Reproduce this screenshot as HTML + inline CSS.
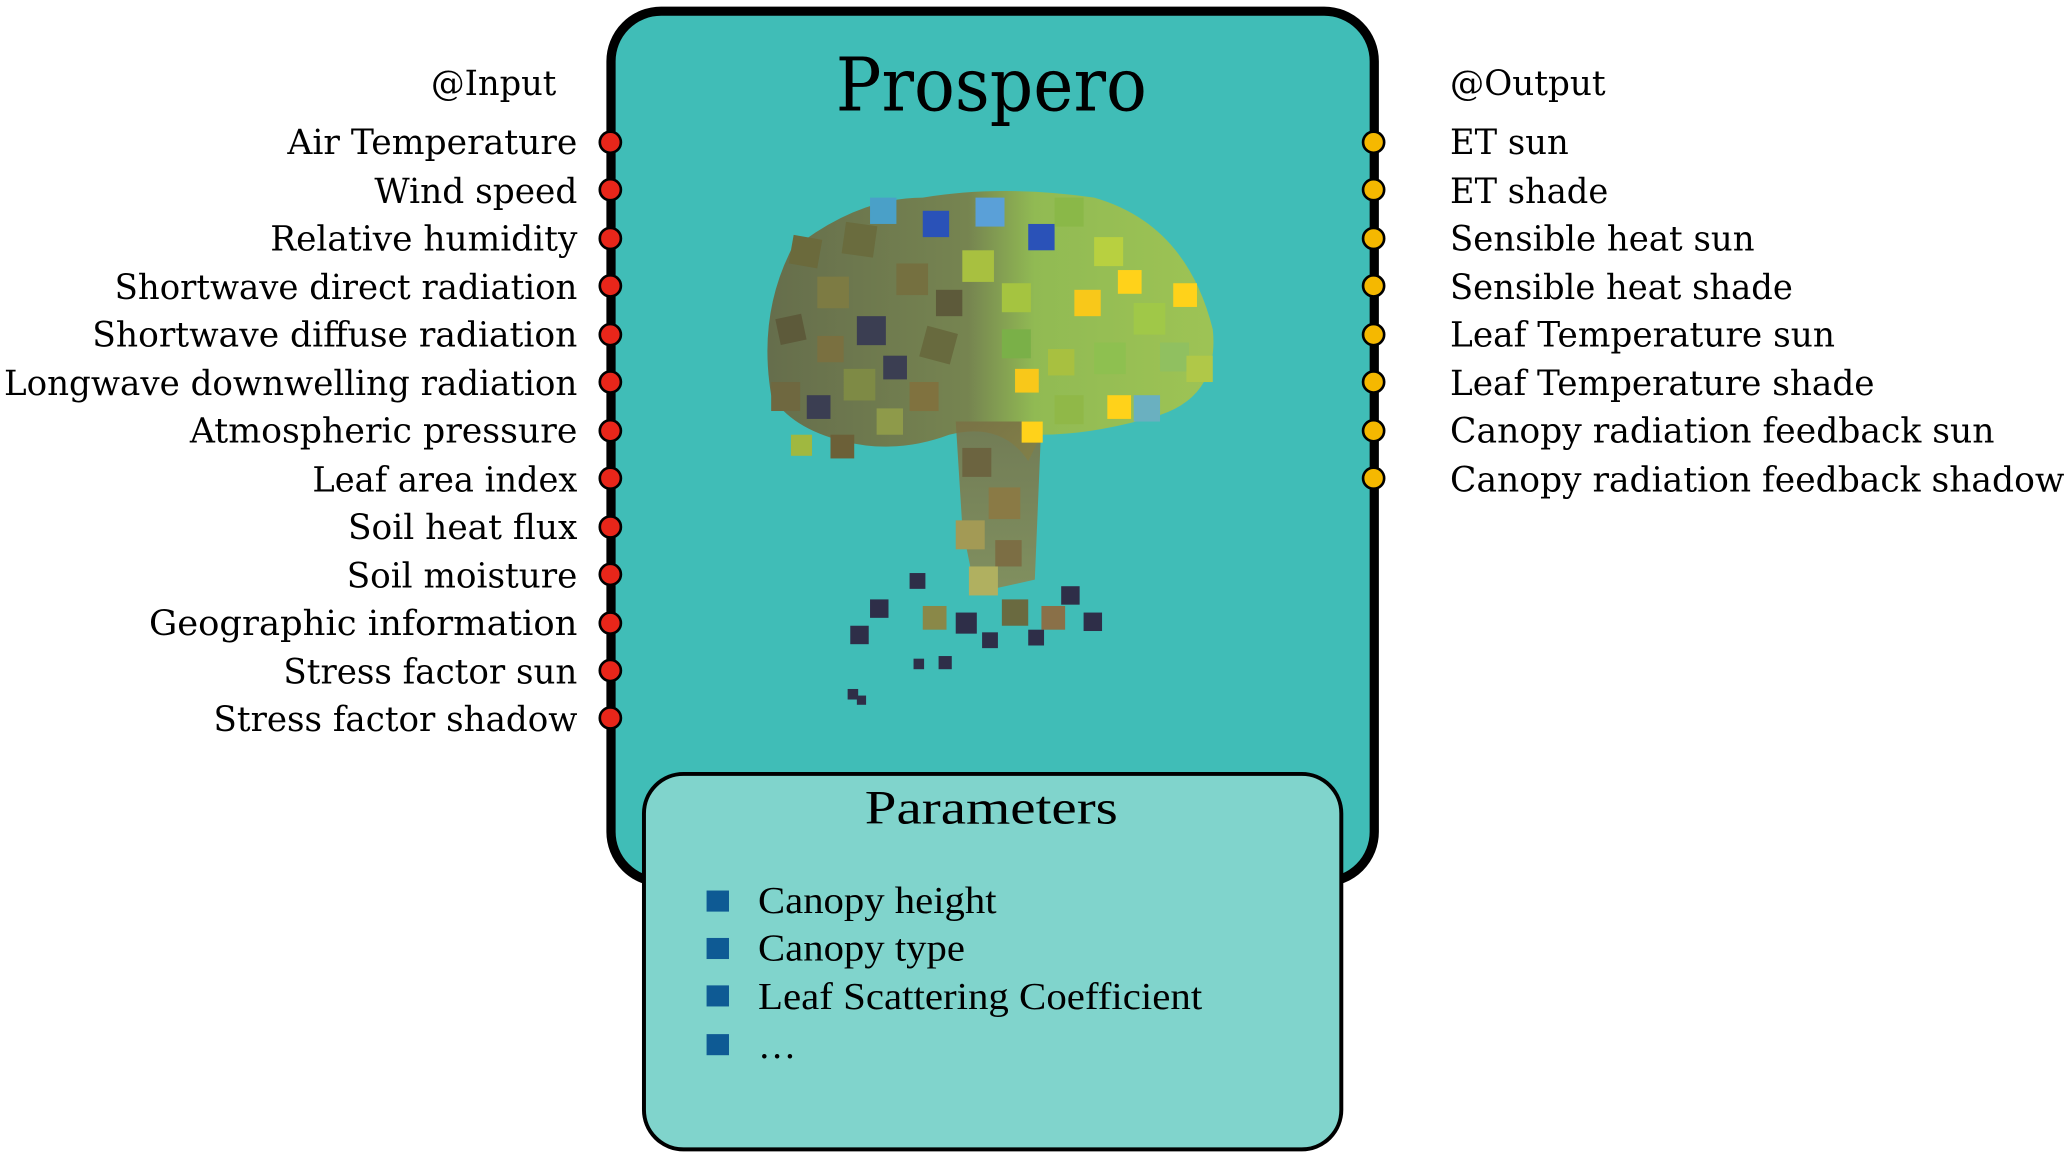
<!DOCTYPE html>
<html><head><meta charset="utf-8"><style>
html,body{margin:0;padding:0;background:#fff;}
svg{display:block}
text{font-family:"DejaVu Serif","Liberation Serif",serif;fill:#000}
.p{font-family:"Liberation Serif",serif}
</style></head><body>
<svg width="2067" height="1154" viewBox="0 0 1568 876" preserveAspectRatio="none" xmlns="http://www.w3.org/2000/svg">
<defs>
<linearGradient id="cg" x1="0" x2="1" y1="0" y2="0">
<stop offset="0" stop-color="#6a6540"/><stop offset="0.45" stop-color="#7c7e45"/><stop offset="0.6" stop-color="#9aba48"/><stop offset="1" stop-color="#a8c44a"/>
</linearGradient>
<linearGradient id="tg" x1="0" x2="0" y1="0" y2="1">
<stop offset="0" stop-color="#7a7044"/><stop offset="1" stop-color="#8c8850"/>
</linearGradient>
</defs>
<rect x="0" y="0" width="1568" height="876" fill="#fff"/>
<rect x="463.5" y="8.5" width="579" height="661" rx="38" fill="#40bdb7" stroke="#000" stroke-width="7"/>
<text x="752" y="84" font-size="56" text-anchor="middle" textLength="236" lengthAdjust="spacingAndGlyphs">Prospero</text>

<!-- tree -->
<g>
<path d="M600 190 Q650 150 700 150 Q760 140 830 150 Q900 170 920 250 Q925 300 880 315 Q830 330 790 330 L780 350 Q760 320 720 330 Q680 345 640 335 Q600 325 585 300 Q575 240 600 190 Z" fill="url(#cg)" opacity="0.9"/>
<path d="M725 320 L790 320 L785 440 L740 450 L730 400 Z" fill="url(#tg)" opacity="0.85"/>
<g stroke="none">
<rect x="600" y="180" width="22" height="22" fill="#6b6a3c" transform="rotate(10 611 191)"/>
<rect x="620" y="210" width="24" height="24" fill="#7d7b43"/>
<rect x="590" y="240" width="20" height="20" fill="#5d5a3a" transform="rotate(-12 600 250)"/>
<rect x="585" y="290" width="22" height="22" fill="#6f6840"/>
<rect x="612" y="300" width="18" height="18" fill="#3b3e52"/>
<rect x="640" y="170" width="24" height="24" fill="#6a6c3e" transform="rotate(8 652 182)"/>
<rect x="660" y="150" width="20" height="20" fill="#4aa0c8"/>
<rect x="700" y="160" width="20" height="20" fill="#2a52b8"/>
<rect x="680" y="200" width="24" height="24" fill="#757040"/>
<rect x="650" y="240" width="22" height="22" fill="#3b3e52"/>
<rect x="640" y="280" width="24" height="24" fill="#7e8a45"/>
<rect x="665" y="310" width="20" height="20" fill="#8e9a4a"/>
<rect x="700" y="250" width="24" height="24" fill="#686a3e" transform="rotate(15 712 262)"/>
<rect x="690" y="290" width="22" height="22" fill="#80723f"/>
<rect x="740" y="150" width="22" height="22" fill="#5aa0d8"/>
<rect x="730" y="190" width="24" height="24" fill="#a8c040"/>
<rect x="760" y="215" width="22" height="22" fill="#a5c440"/>
<rect x="780" y="170" width="20" height="20" fill="#2a52b8"/>
<rect x="800" y="150" width="22" height="22" fill="#8ab848"/>
<rect x="830" y="180" width="22" height="22" fill="#b8d040"/>
<rect x="848" y="205" width="18" height="18" fill="#ffd21a"/>
<rect x="815" y="220" width="20" height="20" fill="#f8c81a"/>
<rect x="860" y="230" width="24" height="24" fill="#a0c848"/>
<rect x="890" y="215" width="18" height="18" fill="#ffd21a"/>
<rect x="880" y="260" width="22" height="22" fill="#90c060"/>
<rect x="900" y="270" width="20" height="20" fill="#b0c848"/>
<rect x="830" y="260" width="24" height="24" fill="#8ec050"/>
<rect x="795" y="265" width="20" height="20" fill="#a8c040"/>
<rect x="770" y="280" width="18" height="18" fill="#f8c81a"/>
<rect x="760" y="250" width="22" height="22" fill="#7ab048"/>
<rect x="840" y="300" width="18" height="18" fill="#ffd21a"/>
<rect x="860" y="300" width="20" height="20" fill="#6ab0c0"/>
<rect x="800" y="300" width="22" height="22" fill="#90b848"/>
<rect x="775" y="320" width="16" height="16" fill="#ffd21a"/>
<rect x="600" y="330" width="16" height="16" fill="#a0b840"/>
<rect x="630" y="330" width="18" height="18" fill="#6c6038"/>
<rect x="620" y="255" width="20" height="20" fill="#7a7040"/>
<rect x="670" y="270" width="18" height="18" fill="#3b3e52"/>
<rect x="710" y="220" width="20" height="20" fill="#5d5a3a"/>
<rect x="730" y="340" width="22" height="22" fill="#6c6440"/>
<rect x="750" y="370" width="24" height="24" fill="#8a7a45"/>
<rect x="725" y="395" width="22" height="22" fill="#a39a55"/>
<rect x="755" y="410" width="20" height="20" fill="#7c6e44"/>
<rect x="735" y="430" width="22" height="22" fill="#b0b060"/>
<rect x="660" y="455" width="14" height="14" fill="#2e2e48"/>
<rect x="645" y="475" width="14" height="14" fill="#2e2e48"/>
<rect x="690" y="435" width="12" height="12" fill="#2e2e48"/>
<rect x="700" y="460" width="18" height="18" fill="#8a8848"/>
<rect x="725" y="465" width="16" height="16" fill="#2e2e48"/>
<rect x="760" y="455" width="20" height="20" fill="#6a6a40"/>
<rect x="790" y="460" width="18" height="18" fill="#8a7048"/>
<rect x="805" y="445" width="14" height="14" fill="#2e2e48"/>
<rect x="822" y="465" width="14" height="14" fill="#2e2e48"/>
<rect x="780" y="478" width="12" height="12" fill="#2e2e48"/>
<rect x="745" y="480" width="12" height="12" fill="#2e2e48"/>
<rect x="693" y="500" width="8" height="8" fill="#2e2e48"/>
<rect x="712" y="498" width="10" height="10" fill="#2e2e48"/>
<rect x="643" y="523" width="8" height="8" fill="#2e2e48"/>
<rect x="650" y="528" width="7" height="7" fill="#2e2e48"/>
</g>
</g>

<!-- params box -->
<rect x="488.5" y="587.5" width="529" height="285" rx="30" fill="#80d4cc" stroke="#000" stroke-width="3"/>
<text class="p" x="752" y="625" font-size="36" text-anchor="middle" textLength="192" lengthAdjust="spacingAndGlyphs">Parameters</text>
<g fill="#0e5a94">
<rect x="536" y="676" width="17" height="16"/><rect x="536" y="712" width="17" height="16"/>
<rect x="536" y="748" width="17" height="16"/><rect x="536" y="785" width="17" height="16"/>
</g>
<g class="p" font-size="29">
<text class="p" x="575" y="693" textLength="181" lengthAdjust="spacingAndGlyphs">Canopy height</text>
<text class="p" x="575" y="729" textLength="157" lengthAdjust="spacingAndGlyphs">Canopy type</text>
<text class="p" x="575" y="766" textLength="337" lengthAdjust="spacingAndGlyphs">Leaf Scattering Coefficient</text>
<text class="p" x="575" y="803">…</text>
</g>

<!-- inputs -->
<g font-size="26">
<text x="327" y="72" textLength="95" lengthAdjust="spacingAndGlyphs">@Input</text>
<text x="218" y="117" textLength="220" lengthAdjust="spacingAndGlyphs">Air Temperature</text>
<text x="284" y="154" textLength="154" lengthAdjust="spacingAndGlyphs">Wind speed</text>
<text x="205" y="190" textLength="233" lengthAdjust="spacingAndGlyphs">Relative humidity</text>
<text x="87" y="227" textLength="351" lengthAdjust="spacingAndGlyphs">Shortwave direct radiation</text>
<text x="70" y="263" textLength="368" lengthAdjust="spacingAndGlyphs">Shortwave diffuse radiation</text>
<text x="3" y="300" textLength="435" lengthAdjust="spacingAndGlyphs">Longwave downwelling radiation</text>
<text x="144" y="336" textLength="294" lengthAdjust="spacingAndGlyphs">Atmospheric pressure</text>
<text x="237" y="373" textLength="201" lengthAdjust="spacingAndGlyphs">Leaf area index</text>
<text x="264" y="409" textLength="174" lengthAdjust="spacingAndGlyphs">Soil heat flux</text>
<text x="263" y="446" textLength="175" lengthAdjust="spacingAndGlyphs">Soil moisture</text>
<text x="113" y="482" textLength="325" lengthAdjust="spacingAndGlyphs">Geographic  information</text>
<text x="215" y="519" textLength="223" lengthAdjust="spacingAndGlyphs">Stress factor sun</text>
<text x="162" y="555" textLength="276" lengthAdjust="spacingAndGlyphs">Stress factor shadow</text>
</g>
<g fill="#e8261a" stroke="#000" stroke-width="2">
<circle cx="463" cy="108" r="8"/><circle cx="463" cy="144" r="8"/><circle cx="463" cy="181" r="8"/>
<circle cx="463" cy="217" r="8"/><circle cx="463" cy="254" r="8"/><circle cx="463" cy="290" r="8"/>
<circle cx="463" cy="327" r="8"/><circle cx="463" cy="363" r="8"/><circle cx="463" cy="400" r="8"/>
<circle cx="463" cy="436" r="8"/><circle cx="463" cy="473" r="8"/><circle cx="463" cy="509" r="8"/>
<circle cx="463" cy="545" r="8"/>
</g>

<!-- outputs -->
<g font-size="26">
<text x="1100" y="72" textLength="118" lengthAdjust="spacingAndGlyphs">@Output</text>
<text x="1100" y="117" textLength="90" lengthAdjust="spacingAndGlyphs">ET sun</text>
<text x="1100" y="154" textLength="120" lengthAdjust="spacingAndGlyphs">ET shade</text>
<text x="1100" y="190" textLength="231" lengthAdjust="spacingAndGlyphs">Sensible heat sun</text>
<text x="1100" y="227" textLength="260" lengthAdjust="spacingAndGlyphs">Sensible heat shade</text>
<text x="1100" y="263" textLength="292" lengthAdjust="spacingAndGlyphs">Leaf Temperature sun</text>
<text x="1100" y="300" textLength="322" lengthAdjust="spacingAndGlyphs">Leaf Temperature shade</text>
<text x="1100" y="336" textLength="413" lengthAdjust="spacingAndGlyphs">Canopy radiation feedback sun</text>
<text x="1100" y="373" textLength="466" lengthAdjust="spacingAndGlyphs">Canopy radiation feedback shadow</text>
</g>
<g fill="#f5b800" stroke="#000" stroke-width="2">
<circle cx="1042" cy="108" r="8"/><circle cx="1042" cy="144" r="8"/><circle cx="1042" cy="181" r="8"/>
<circle cx="1042" cy="217" r="8"/><circle cx="1042" cy="254" r="8"/><circle cx="1042" cy="290" r="8"/>
<circle cx="1042" cy="327" r="8"/><circle cx="1042" cy="363" r="8"/>
</g>
</svg>
</body></html>
